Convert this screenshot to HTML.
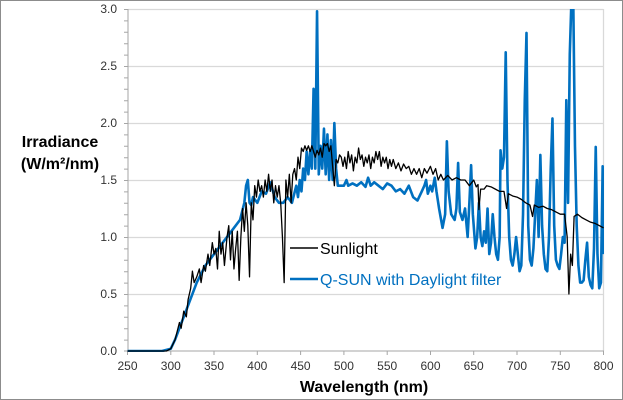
<!DOCTYPE html>
<html><head><meta charset="utf-8"><style>
html,body{margin:0;padding:0;background:#fff}
svg{display:block}
text{font-family:"Liberation Sans",sans-serif}
</style></head><body>
<svg width="623" height="400" viewBox="0 0 623 400" xmlns="http://www.w3.org/2000/svg">
<rect x="0.5" y="0.5" width="622" height="399" fill="#fff" stroke="#8c8c8c"/>
<defs><clipPath id="c"><rect x="127" y="9" width="477" height="343"/></clipPath></defs>
<g stroke="#d9d9d9" stroke-width="1.3">
<line x1="128" y1="9.5" x2="603.5" y2="9.5"/>
<line x1="128" y1="66.5" x2="603.5" y2="66.5"/>
<line x1="128" y1="123.5" x2="603.5" y2="123.5"/>
<line x1="128" y1="180.5" x2="603.5" y2="180.5"/>
<line x1="128" y1="237.5" x2="603.5" y2="237.5"/>
<line x1="128" y1="294.5" x2="603.5" y2="294.5"/>
<line x1="603.5" y1="9" x2="603.5" y2="351"/>
</g>
<g stroke="#a6a6a6" stroke-width="1">
<line x1="128" y1="9" x2="128" y2="351"/>
<line x1="124" y1="351" x2="604" y2="351"/>
<path d="M124 9.5h4M124 20.9h4M124 32.3h4M124 43.7h4M124 55.1h4M124 66.5h4M124 77.9h4M124 89.3h4M124 100.7h4M124 112.1h4M124 123.5h4M124 134.9h4M124 146.3h4M124 157.7h4M124 169.1h4M124 180.5h4M124 191.9h4M124 203.3h4M124 214.7h4M124 226.1h4M124 237.5h4M124 248.9h4M124 260.3h4M124 271.7h4M124 283.1h4M124 294.5h4M124 305.9h4M124 317.3h4M124 328.7h4M124 340.1h4"/>
<path d="M127.5 351v4M170.8 351v4M214 351v4M257.3 351v4M300.6 351v4M343.9 351v4M387.2 351v4M430.5 351v4M473.7 351v4M517 351v4M560.3 351v4M603.5 351v4"/>
</g>
<g font-size="12" fill="#333" text-anchor="end">
<text x="117" y="13">3.0</text><text x="117" y="70">2.5</text><text x="117" y="127">2.0</text>
<text x="117" y="184">1.5</text><text x="117" y="241">1.0</text><text x="117" y="298">0.5</text><text x="117" y="355">0.0</text>
</g>
<g font-size="12" fill="#333" text-anchor="middle">
<text x="127.5" y="370">250</text><text x="170.8" y="370">300</text><text x="214" y="370">350</text><text x="257.3" y="370">400</text>
<text x="300.6" y="370">450</text><text x="343.9" y="370">500</text><text x="387.2" y="370">550</text><text x="430.5" y="370">600</text>
<text x="473.7" y="370">650</text><text x="517" y="370">700</text><text x="560.3" y="370">750</text><text x="603.5" y="370">800</text>
</g>
<text x="364" y="392" font-size="16" font-weight="bold" fill="#000" text-anchor="middle">Wavelength (nm)</text>
<text x="60" y="147" font-size="16" font-weight="bold" fill="#000" text-anchor="middle">Irradiance</text>
<text x="60" y="169" font-size="16" font-weight="bold" fill="#000" text-anchor="middle">(W/m²/nm)</text>
<g clip-path="url(#c)">
<g transform="translate(127.5,351) scale(0.8655,-114) translate(-250,0)" fill="none" stroke-linejoin="round">
<polyline vector-effect="non-scaling-stroke" stroke="#0070c0" stroke-width="2.6" points="250,0 290,0 300,0.02 305,0.1 310,0.2 320,0.4 330,0.6 340,0.75 350,0.85 360,0.95 370,1.05 380,1.15 385,1.3 387,1.45 389,1.5 391,1.3 393,1.28 395,1.35 400,1.3 405,1.4 410,1.38 415,1.48 420,1.35 425,1.3 430,1.3 435,1.35 440,1.3 445,1.45 447,1.35 449,1.5 451,1.4 453,1.6 455,1.5 457,1.75 459,1.55 461,1.75 463,1.6 465,2.3 467,1.6 469,2.98 471,1.55 473,1.8 475,1.6 477,1.95 479,1.55 481,1.9 483,1.5 485,1.85 487,1.5 489,2.0 491,1.6 493,1.45 500,1.45 503,1.5 505,1.45 510,1.47 515,1.45 520,1.48 525,1.44 528,1.52 531,1.45 535,1.48 540,1.45 545,1.42 550,1.47 555,1.45 560,1.4 565,1.42 570,1.38 575,1.45 580,1.35 585,1.32 590,1.4 593,1.45 595,1.5 597,1.38 600,1.45 602,1.4 605,1.52 607,1.4 610,1.25 614,1.08 617,1.2 619,1.84 621,1.4 624,1.2 628,1.15 630,1.25 632,1.65 634,1.22 637,1.15 640,1.25 643,1.0 645,1.3 647,1.63 649,1.2 652,0.9 654,1.0 656,1.3 658,1.0 660,0.92 662,1.05 664,0.95 666,1.25 668,0.85 670,0.95 672,1.2 674,1.0 676,0.85 678,0.8 680,1.0 681,1.76 683,1.6 685,1.7 687,2.62 689,1.5 691,1.0 693,0.8 695,0.75 697,0.85 699,1.0 701,0.85 703,0.7 705,0.75 707,1.2 709,2.2 711,2.79 713,1.1 715,0.8 717,0.75 719,0.9 721,1.2 723,1.5 725,1.0 727,1.72 729,1.1 731,0.85 733,0.72 735,0.7 737,1.0 739,1.6 741,2.04 743,1.1 745,0.8 747,0.75 749,0.72 751,0.85 753,1.0 755,0.95 757,2.2 759,1.3 761,2.6 763,3.1 765,3.1 767,1.8 769,1.1 771,0.75 773,0.6 775,0.6 777,0.62 779,0.8 781,0.95 783,0.65 785,0.58 787,0.55 789,0.9 791,1.79 793,0.85 795,0.55 797,0.6 799,1.62 800,0.85"/>
<polyline vector-effect="non-scaling-stroke" stroke="#000" stroke-width="1.3" points="250,0 295,0 300,0.02 305,0.1 310,0.25 312,0.2 315,0.35 318,0.3 320,0.45 323,0.55 325,0.7 327,0.6 330,0.65 333,0.72 335,0.6 338,0.75 340,0.7 343,0.85 345,0.75 348,0.95 350,0.85 352,0.9 354,0.72 356,1.05 358,0.85 360,0.95 362,0.75 365,1.0 367,1.1 369,0.8 371,1.05 373,0.72 375,0.9 377,1.05 379,0.62 381,1.0 383,1.25 385,1.05 387,1.3 389,1.1 391,0.65 393,1.3 395,1.15 397,1.45 399,1.35 401,1.5 403,1.4 405,1.45 407,1.35 409,1.5 411,1.4 413,1.55 415,1.4 417,1.5 419,1.3 421,1.45 423,1.35 425,1.45 427,1.3 429,1.0 431,0.6 433,1.5 435,1.35 437,1.55 439,1.3 441,1.55 443,1.6 445,1.5 447,1.7 449,1.6 451,1.78 453,1.75 455,1.8 457,1.76 459,1.8 461,1.75 463,1.8 465,1.75 467,1.7 469,1.76 471,1.72 473,1.78 475,1.7 477,1.82 479,1.8 481,1.82 483,1.75 485,1.8 487,1.62 489,1.45 491,1.68 493,1.65 495,1.72 497,1.7 499,1.62 501,1.7 503,1.6 505,1.75 507,1.65 509,1.72 511,1.58 513,1.7 515,1.65 517,1.78 519,1.68 521,1.72 523,1.62 525,1.7 527,1.65 529,1.72 531,1.6 533,1.7 535,1.65 537,1.75 539,1.68 541,1.75 543,1.62 545,1.7 547,1.65 549,1.7 551,1.6 553,1.68 555,1.62 557,1.68 560,1.6 563,1.65 566,1.58 569,1.64 572,1.6 575,1.62 578,1.55 581,1.6 584,1.55 587,1.6 590,1.52 593,1.6 596,1.56 600,1.62 603,1.55 606,1.6 609,1.5 612,1.55 615,1.5 620,1.54 625,1.5 630,1.52 635,1.5 640,1.5 645,1.45 650,1.5 653,1.44 655,1.46 656,1.24 658,1.42 662,1.42 665,1.45 670,1.44 675,1.42 680,1.4 685,1.4 688,1.25 690,1.38 695,1.36 700,1.35 705,1.33 710,1.3 715,1.28 718,1.18 720,1.28 725,1.26 730,1.27 735,1.25 740,1.24 745,1.22 750,1.2 755,1.2 758,1.0 760,0.5 762,0.85 764,0.75 766,1.18 770,1.2 775,1.17 780,1.15 785,1.13 790,1.12 795,1.1 800,1.08"/>
</g>
</g>
<line x1="290" y1="248" x2="318" y2="248" stroke="#000" stroke-width="1.5"/>
<text x="320" y="254" font-size="16" fill="#000">Sunlight</text>
<line x1="290" y1="279" x2="318" y2="279" stroke="#0070c0" stroke-width="2.6"/>
<text x="320" y="285" font-size="16" fill="#0070c0">Q-SUN with Daylight filter</text>
</svg>
</body></html>
